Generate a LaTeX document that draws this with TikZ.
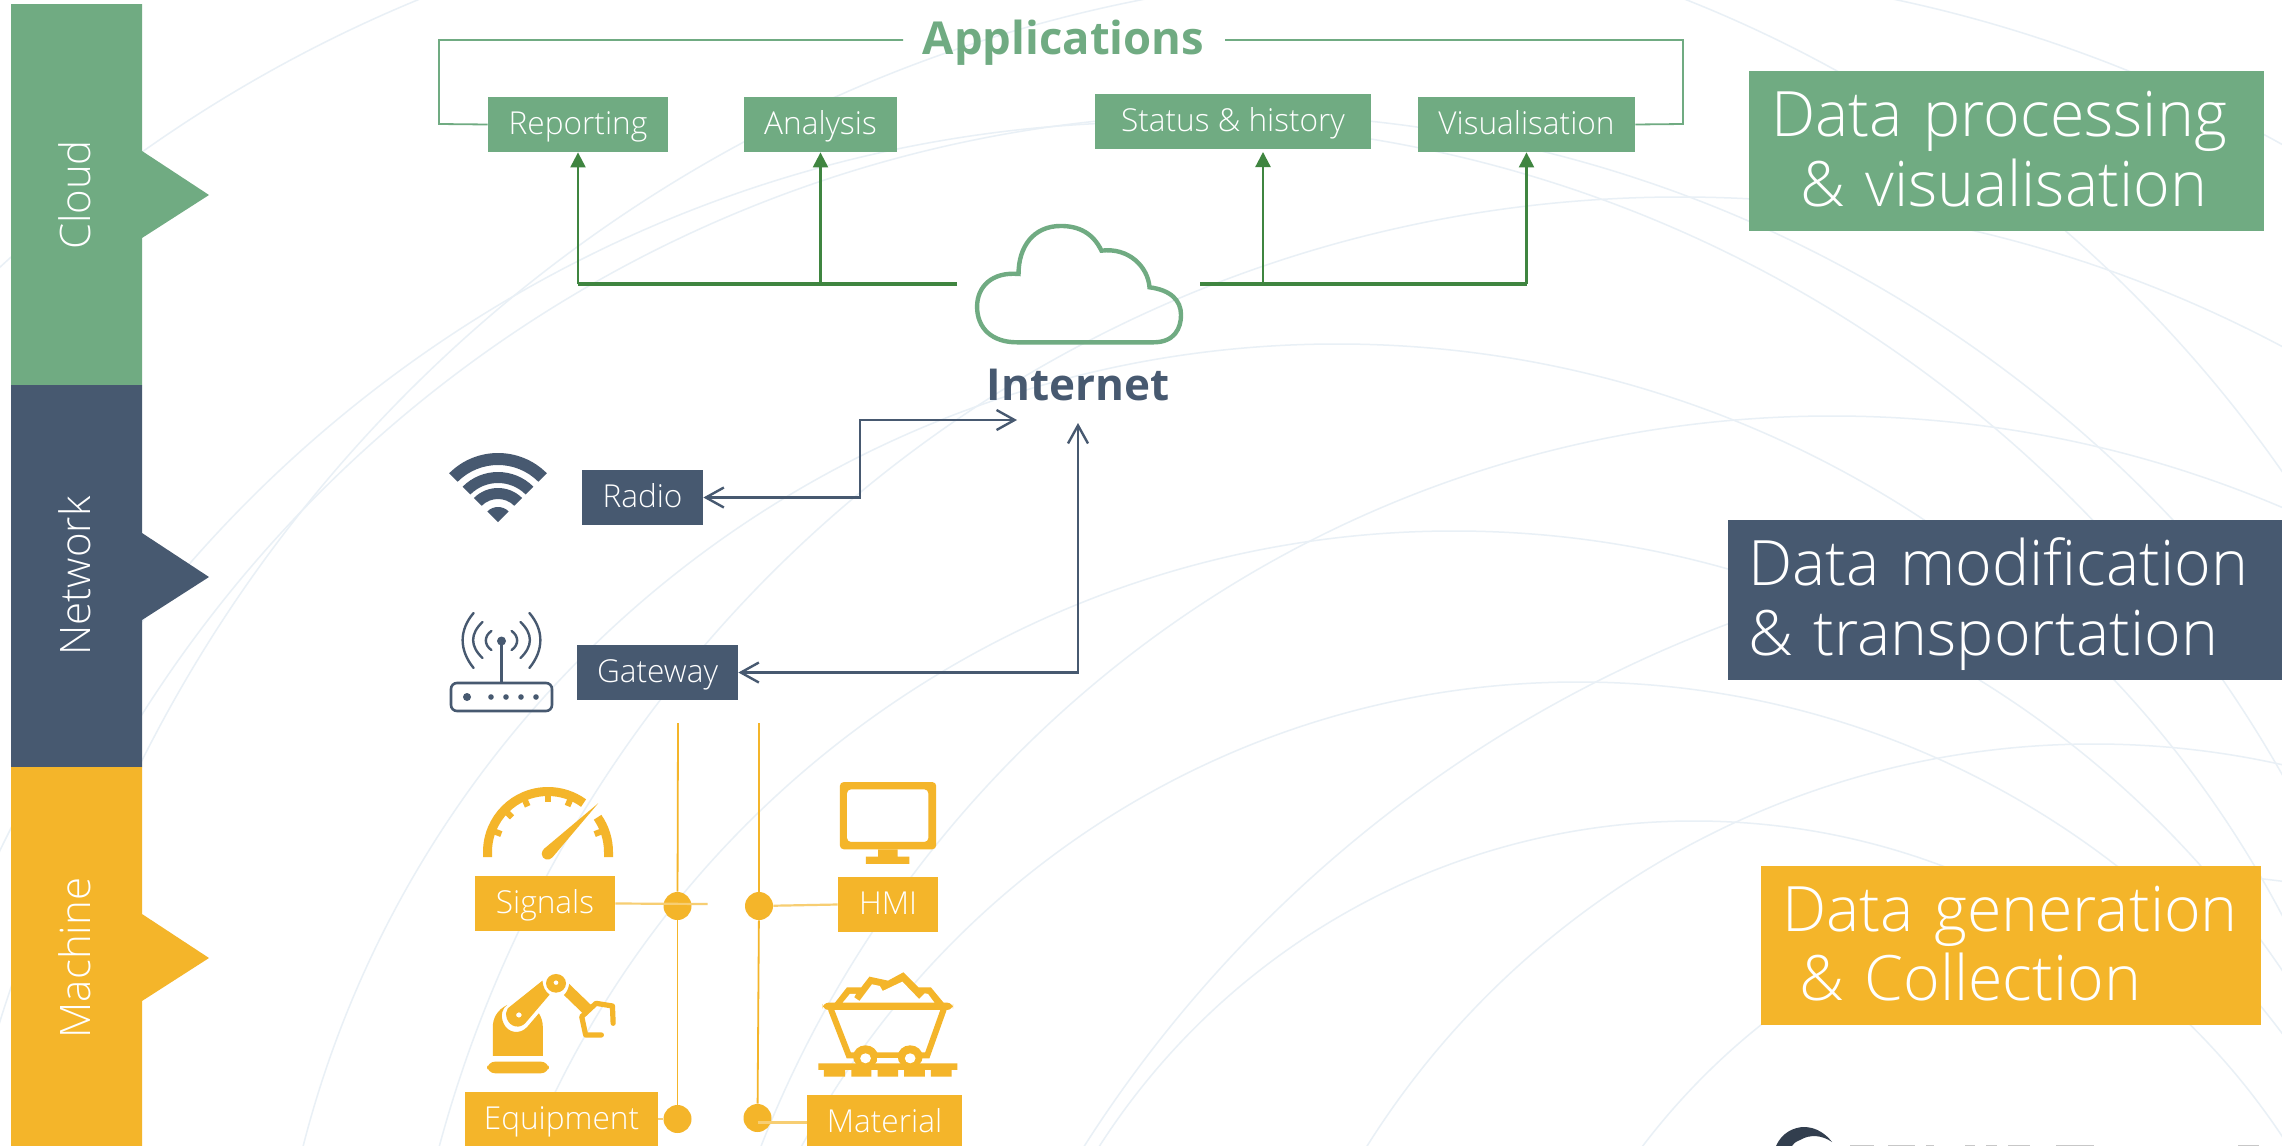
\documentclass[tikz,border=0pt]{standalone}
\usepackage{fontspec}
\setmainfont{Open Sans}
\newfontfamily\lightfont{Open Sans Light}
\usetikzlibrary{arrows.meta}
\definecolor{gr}{HTML}{70AB82}
\definecolor{dgr}{HTML}{3F8540}
\definecolor{nv}{HTML}{475970}
\definecolor{og}{HTML}{F4B52A}
\definecolor{bgl}{HTML}{E9F0F6}
\definecolor{lgo}{HTML}{F7CE73}
\tikzset{
 bgarc/.style={draw=bgl,line width=0.75pt},
 lab/.style={text=white,font=\lightfont\fontsize{15.8}{18}\selectfont,inner sep=0pt,minimum height=27.5pt,text height=12.5pt,text depth=3pt},
 gbox/.style={lab,fill=gr},
 nbox/.style={lab,fill=nv},
 obox/.style={lab,fill=og},
 bar/.style={text=white,font=\lightfont\fontsize{21}{25}\selectfont,rotate=90,inner sep=0pt},
 big/.style={text=white,font=\lightfont\fontsize{31.3}{34.7}\selectfont,inner sep=0pt,align=left},
 head/.style={font=\bfseries\fontsize{22}{26}\selectfont,inner sep=0pt},
 garrow/.style={draw=dgr,line width=1.1pt,-{Triangle[length=7.5pt,width=7.5pt]}},
 gtrunk/.style={draw=dgr,line width=1.6pt},
 narrow/.style={draw=nv,line width=1.2pt,{Straight Barb[length=9pt,width=10pt]}-{Straight Barb[length=9pt,width=10pt]}},
 obus/.style={draw=og,line width=0.9pt},
 ostub/.style={draw=lgo,line width=1.1pt},
 odot/.style={circle,fill=og,minimum size=14pt,inner sep=0pt},
}
\begin{document}
\begin{tikzpicture}[x=0.5pt,y=-0.5pt]
\useasboundingbox (0,0) rectangle (2282,1146);
\clip (0,0) rectangle (2282,1146);
\fill[white] (0,0) rectangle (2282,1146);
% background circles
\draw[bgarc] (1578,1563) circle (881);
\draw[bgarc] (1694,1527) circle (706);
\draw[bgarc] (2094,1602) circle (858);
\draw[bgarc] (1832,1566) circle (1150);
\draw[bgarc] (2187,1848) circle (1307);
\draw[bgarc] (1454,1531) circle (1000);
\draw[bgarc] (1337,1411) circle (1067);
\draw[bgarc] (1680,1482) circle (1285);
\draw[bgarc] (1233,1405) circle (1291);
\draw[bgarc] (1161,1411) circle (1289);
\draw[bgarc] (2189,1561) circle (686);
\begin{scope}\clip (0,0) rectangle (1500,1146);\draw[bgarc] (1418,1400) circle (1427);\end{scope}
\begin{scope}\clip (1500,0) rectangle (2282,1146);\draw[bgarc] (1199,1228) circle (1321);\end{scope}
\begin{scope}\clip (0,0) rectangle (700,1146);\draw[bgarc] (954,1300) circle (1406);\end{scope}
\begin{scope}\clip (1800,0) rectangle (2282,1146);\draw[bgarc] (1603,1369) circle (1400);\end{scope}
% left bars
\fill[gr] (11,4) -- (142,4) -- (142,151) -- (209,195) -- (142,238) -- (142,385) -- (11,385) -- cycle;
\fill[nv] (11,385) -- (142,385) -- (142,533) -- (209,577) -- (142,620) -- (142,767) -- (11,767) -- cycle;
\fill[og] (11,767) -- (142,767) -- (142,914) -- (209,958) -- (142,1001) -- (142,1146) -- (11,1146) -- cycle;
\node[bar] (barcloud) at (75,195) {Cloud};
\node[bar] (barnet) at (75,576) {Network};
\node[bar] (barmach) at (75,958) {Machine};
% right boxes
\node[big,fill=gr,minimum width=257.5pt,minimum height=80pt,text width=257.5pt] (dp) at (2006.5,151)
 {\hspace*{11pt}Data processing\\\hspace*{25.5pt}\& visualisation\rule[-2.3pt]{0pt}{0pt}};
\node[big,fill=nv,minimum width=277pt,minimum height=80pt,text width=277pt] (dm) at (2005,600)
 {\rule{0pt}{28pt}\hspace*{10pt}Data modification\\\hspace*{10pt}\& transportation};
\node[big,fill=og,minimum width=250pt,minimum height=79.5pt,text width=250pt] (dg) at (2011,945.5)
 {\hspace*{10.5pt}Data generation\\\hspace*{19pt}\& Collection\rule[-2.3pt]{0pt}{0pt}};
% applications
\node[head,text=gr,font=\bfseries\fontsize{22.7}{26}\selectfont] (apps) at (1063.5,43) {Applications};
\node[gbox,minimum width=90pt] (rep) at (578,124.5) {Reporting};
\node[gbox,minimum width=76.5pt] (ana) at (820.5,124.5) {Analysis};
\node[gbox,minimum width=138pt] (sta) at (1233,121.5) {Status \& history};
\node[gbox,minimum width=108.5pt] (vis) at (1526.5,124.5) {Visualisation};
\coordinate (appl) at (903,40);
\coordinate (appr) at (1225,40);
\draw[draw=gr,line width=0.9pt] (appl) -- (439,40) -- (439,124) -- (rep.west);
\draw[draw=gr,line width=0.9pt] (appr) -- (1683,40) -- (1683,124) -- (vis.east);
% cloud
\begin{scope}[shift={(420,0)},xscale=0.829,yscale=0.3333]
\draw[gr,line width=2.2pt] (720,1027) -- (885,1027) .. controls (910,1027) and (918,985) .. (918,945)
 .. controls (918,900) and (905,870) .. (880,862) .. controls (878,800) and (855,742) .. (822,752)
 .. controls (812,700) and (795,678) .. (773,678) .. controls (740,678) and (722,740) .. (722,822)
 .. controls (690,815) and (672,860) .. (672,920) .. controls (672,985) and (690,1027) .. (720,1027) -- cycle;
\end{scope}
\coordinate (cloudl) at (957,284);
\coordinate (cloudr) at (1200,284);
\coordinate (sttip) at (1263,152);
\draw[gtrunk] (cloudl) -- (rep.south |- cloudl);
\draw[gtrunk] (cloudr) -- (vis.south |- cloudr);
\draw[garrow] (rep.south |- cloudl) -- (rep.south);
\draw[garrow] (ana.south |- cloudl) -- (ana.south);
\draw[garrow] (sttip |- cloudr) -- (sttip);
\draw[garrow] (vis.south |- cloudr) -- (vis.south);
\node[head,text=nv] (inet) at (1078,385) {Internet};
% network
\node[nbox,minimum width=60.5pt] (radio) at (642.5,497.5) {Radio};
\node[nbox,minimum width=80.5pt] (gate) at (657.5,672.5) {Gateway};
\coordinate (inetl) at (1017,420);
\coordinate (inetb) at (1078,423);
\draw[narrow] (radio.east) -- (860,497.5) -- (860,420) -- (inetl);
\draw[narrow] (gate.east) -- (inetb |- gate.east) -- (inetb);
% wifi icon
\fill[nv] (498,522) -- ++(-135:15) arc (-135:-45:15) -- cycle;
\foreach \ra/\rb in {34/23,50/39,69/57}{
 \fill[nv] (498,522) ++(-135:\ra) arc (-135:-45:\ra) -- ++(135:\ra-\rb) arc (-45:-135:\rb) -- cycle;
}
% router icon
\draw[nv,line width=1.3pt,rounded corners=3pt] (451,683) rectangle (552,711);
\draw[nv,line width=1.3pt] (501.5,641) -- (501.5,683);
\fill[nv] (501.5,641) circle (4.5);
\fill[nv] (467,697) circle (4);
\foreach \xx in {491,506,521,536}{\fill[nv] (\xx,697) circle (2.8);}
\draw[nv,line width=1.2pt,line cap=round] (473.6,613) .. controls (459,630) and (459,650) .. (473.6,668);
\draw[nv,line width=1.2pt,line cap=round] (482.5,622) .. controls (470,634) and (470,646) .. (482.5,658);
\draw[nv,line width=1.2pt,line cap=round] (491.4,631) .. controls (484,636) and (484,645) .. (491.4,650);
\draw[nv,line width=1.2pt,line cap=round] (529.4,613) .. controls (544,630) and (544,650) .. (529.4,668);
\draw[nv,line width=1.2pt,line cap=round] (520.5,622) .. controls (533,634) and (533,646) .. (520.5,658);
\draw[nv,line width=1.2pt,line cap=round] (511.6,631) .. controls (519,636) and (519,645) .. (511.6,650);
% machine
\node[obox,minimum width=70pt] (sig) at (545,903.5) {Signals};
\node[obox,minimum width=50pt] (hmi) at (888,904.5) {HMI};
\node[obox,minimum width=96.5pt] (equ) at (561.5,1119.5) {Equipment};
\node[obox,minimum width=77.5pt] (mat) at (884.5,1122.5) {Material};
\coordinate (b1t) at (678,723);
\coordinate (b2t) at (759,723);
\node[odot] (d1) at (677.5,906) {};
\node[odot] (d2) at (759,906) {};
\node[odot] (d3) at (677.5,1119) {};
\node[odot] (d4) at (757.5,1118) {};
\draw[obus] (b1t) -- (d1);
\draw[obus] (d1) -- (d3);
\draw[obus] (b2t) -- (d2);
\draw[obus] (d2) -- (d4);
\coordinate (sigend) at (707.5,904);
\draw[ostub] (sig.east) -- (sigend);
\draw[ostub] (d2) -- (hmi.west);
\draw[ostub] (equ.east |- d3) -- (d3);
\draw[ostub] (d4 |- mat.west) -- (mat.west);
% gauge
\draw[og,line width=4.5pt] (487.5,857) -- (487.5,852) arc (-180:-54:60.5);
\draw[og,line width=4.5pt] (548,852) ++(-35:60.5) arc (-35:0:60.5) -- ++(0,5);
\foreach \aa in {-90,-67,-114,-136,-159,-21}{
 \draw[og,line width=3pt] (548,852) ++(\aa:57) -- ++(\aa:-7);
}
\begin{scope}[shift={(440,740)},xscale=0.357,yscale=0.3333]
\fill[og] (443,190) -- (315,352) .. controls (305,365) and (285,358) .. (285,342) .. controls (285,335) and (288,330) .. (292,326) -- cycle;
% monitor
\fill[og,even odd rule,rounded corners=2pt] (1120,126) rectangle (1390,328) (1140,148) rectangle (1368,306);
\fill[og] (1227,328) rectangle (1282,350) (1193,350) rectangle (1315,372);
% robot
\fill[og] (148,948) -- (288,948) -- (288,860) .. controls (288,845) and (283,830) .. (277,820) -- (245,860) .. controls (225,885) and (190,880) .. (178,850) .. controls (168,825) and (175,805) .. (188,795) .. controls (160,810) and (148,835) .. (148,860) -- cycle;
\fill[og,rounded corners=4pt] (132,1000) -- (132,965) -- (305,965) -- (305,1000) -- cycle;
\fill[og,even odd rule] (190,805) -- (287,722) .. controls (288,740) and (295,755) .. (307,764) -- (240,848) .. controls (225,868) and (195,862) .. (187,835) .. controls (184,822) and (185,812) .. (190,805) -- cycle (221,825) circle [x radius=8,y radius=8];
\fill[og,even odd rule] (325,730) circle [x radius=28,y radius=28] (325,728) circle [x radius=7,y radius=7];
\fill[og] (362,732) -- (423,795) -- (400,820) -- (347,765) .. controls (355,758) and (360,745) .. (362,732) -- cycle;
\draw[og,line width=2.6pt,line join=round,line cap=round] (485,850) -- (483,798) -- (437,790) -- (397,830) -- (408,885) -- (452,885);
% cart
\fill[og] (1060,970) -- (1449,970) -- (1449,990) -- (1433,990) -- (1433,1010) -- (1375,1010) -- (1375,990) -- (1358,990) -- (1358,1010) -- (1300,1010) -- (1300,990) -- (1283,990) -- (1283,1010) -- (1226,1010) -- (1226,990) -- (1208,990) -- (1208,1010) -- (1152,1010) -- (1152,990) -- (1135,990) -- (1135,1010) -- (1075,1010) -- (1075,990) -- (1060,990) -- cycle;
\fill[og,rounded corners=3pt] (1072,788) rectangle (1437,810);
\draw[og,line width=3pt,line join=miter] (1095,808) -- (1145,946) -- (1365,946) -- (1411,808);
\fill[og] (1192,950) circle [x radius=35,y radius=34] (1317,950) circle [x radius=35,y radius=34];
\fill[white] (1225,955) rectangle (1283,970);
\fill[white] (1192,955) circle [x radius=15,y radius=15] (1317,955) circle [x radius=15,y radius=15];
\fill[og] (1105,790) -- (1140,742) -- (1180,742) -- (1203,710) -- (1255,722) -- (1298,697) -- (1340,742) -- (1375,742) -- (1412,790) -- cycle;
\fill[white] (1128,788) -- (1148,762) -- (1165,762) -- (1160,772) -- (1175,783) -- (1210,733) -- (1232,738) -- (1240,753) -- (1295,725) -- (1342,777) -- (1358,760) -- (1367,762) -- (1385,788) -- cycle;
\end{scope}
% logo top
\fill[nv!70!black] (1776,1146) .. controls (1782,1132) and (1795,1127) .. (1804,1127) .. controls (1816,1127) and (1826,1134) .. (1832,1142) .. controls (1822,1135) and (1810,1134) .. (1800,1140) .. controls (1795,1142) and (1793,1144) .. (1792,1146) -- cycle;
\foreach \xa/\xb in {1850/1874,1888/1915,1926/1934,1965/1975,1986/1997,2008/2030,2056/2094,2238/2259}{
 \fill[black!22] (\xa,1144.8) rectangle (\xb,1146);
}
\end{tikzpicture}
\end{document}
